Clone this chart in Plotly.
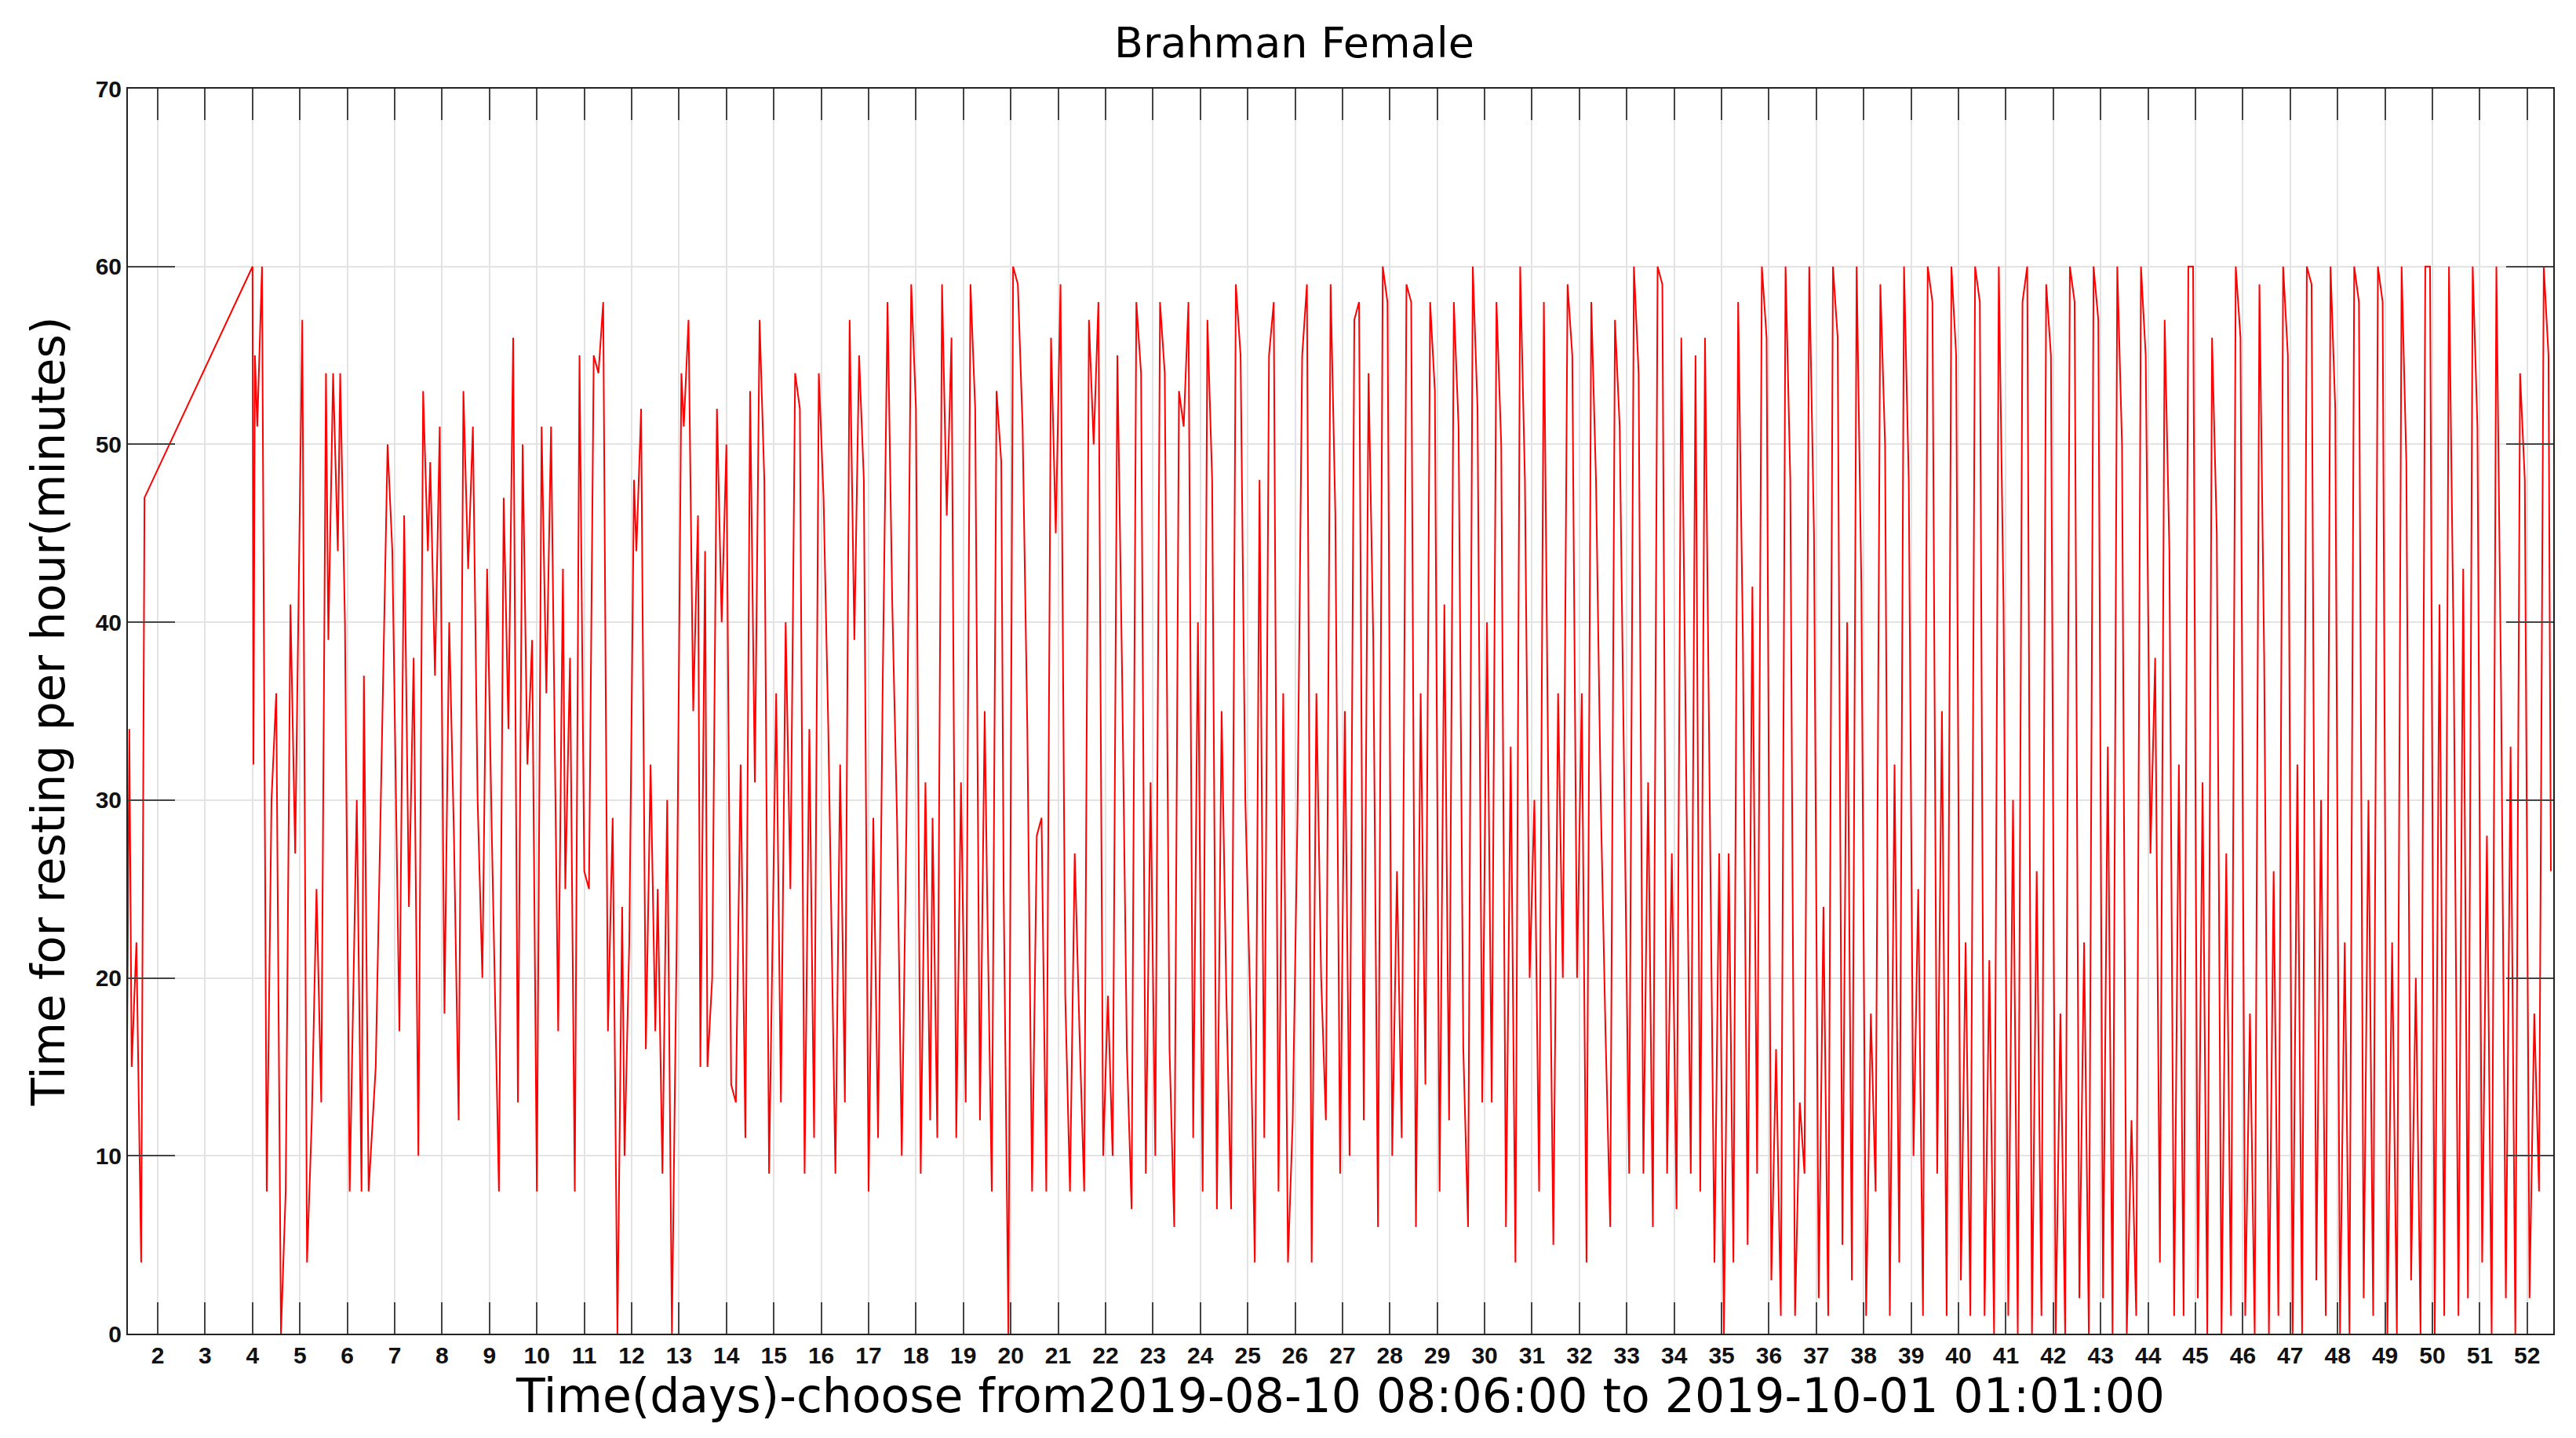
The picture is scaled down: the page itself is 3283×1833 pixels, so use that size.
import plotly.graph_objects as go

pts = """1.35 15,1.4 34,1.45 15,1.55 22,1.65 4,1.72 47,4.0 60,4.02 32,4.05 55,4.1 51,4.2 60,4.3 8,4.4 30,4.5 36,4.6 0,4.7 8,4.8 41,4.9 27,5.05 57,5.15 4,5.25 12,5.35 25,5.45 13,5.55 54,5.6 39,5.7 54,5.8 44,5.85 54,5.95 40,6.05 8,6.2 30,6.3 8,6.35 37,6.45 8,6.6 15,6.85 50,6.95 44,7.1 17,7.2 46,7.3 24,7.4 38,7.5 10,7.6 53,7.7 44,7.75 49,7.85 37,7.95 51,8.05 18,8.15 40,8.25 28,8.35 12,8.45 53,8.55 43,8.65 51,8.75 30,8.85 20,8.95 43,9.05 28,9.2 8,9.3 47,9.4 34,9.5 56,9.6 13,9.7 50,9.8 32,9.9 39,10.0 8,10.1 51,10.2 36,10.3 51,10.45 17,10.55 43,10.6 25,10.7 38,10.8 8,10.9 55,11.0 26,11.1 25,11.2 55,11.3 54,11.4 58,11.5 17,11.6 29,11.7 0,11.8 24,11.85 10,11.95 22,12.05 48,12.1 44,12.2 52,12.3 16,12.4 32,12.5 17,12.55 25,12.65 9,12.75 30,12.85 0,12.95 22,13.05 54,13.1 51,13.2 57,13.3 35,13.4 46,13.45 15,13.55 44,13.6 15,13.7 20,13.8 52,13.9 40,14.0 50,14.1 14,14.2 13,14.3 32,14.4 11,14.5 53,14.6 31,14.7 57,14.8 48,14.9 9,15.05 36,15.15 13,15.25 40,15.35 25,15.45 54,15.55 52,15.65 9,15.75 34,15.85 11,15.95 54,16.05 47,16.15 34,16.3 9,16.4 32,16.5 13,16.6 57,16.7 39,16.8 55,16.9 48,17.0 8,17.1 29,17.2 11,17.3 37,17.4 58,17.5 41,17.6 29,17.7 10,17.8 29,17.9 59,18.0 52,18.1 9,18.2 31,18.3 12,18.35 29,18.45 11,18.55 59,18.65 46,18.75 56,18.85 11,18.95 31,19.05 13,19.15 59,19.25 52,19.35 12,19.45 35,19.5 25,19.6 8,19.7 53,19.8 49,19.85 25,19.95 0,20.05 60,20.15 59,20.25 51,20.35 34,20.45 8,20.55 28,20.65 29,20.75 8,20.85 56,20.95 45,21.05 59,21.15 19,21.25 8,21.35 27,21.45 17,21.55 8,21.65 57,21.75 50,21.85 58,21.95 10,22.05 19,22.15 10,22.25 55,22.35 37,22.45 16,22.55 7,22.65 58,22.75 54,22.85 9,22.95 31,23.05 10,23.15 58,23.25 54,23.35 16,23.45 6,23.55 53,23.65 51,23.75 58,23.85 11,23.95 40,24.05 8,24.15 57,24.25 48,24.35 7,24.45 35,24.55 19,24.65 7,24.75 59,24.85 55,24.95 30,25.05 19,25.15 4,25.25 48,25.35 11,25.45 55,25.55 58,25.65 8,25.75 36,25.85 4,25.95 12,26.05 29,26.15 55,26.25 59,26.35 4,26.45 36,26.55 20,26.65 12,26.75 59,26.85 46,26.95 9,27.05 35,27.15 10,27.25 57,27.35 58,27.45 12,27.55 54,27.65 39,27.75 6,27.85 60,27.95 58,28.05 10,28.15 26,28.25 11,28.35 59,28.45 58,28.55 6,28.65 36,28.75 14,28.85 58,28.95 53,29.05 8,29.15 41,29.25 12,29.35 58,29.45 51,29.55 16,29.65 6,29.75 60,29.85 52,29.95 13,30.05 40,30.15 13,30.25 58,30.35 50,30.45 6,30.55 33,30.65 4,30.75 60,30.85 48,30.95 20,31.05 30,31.15 8,31.25 58,31.35 29,31.45 5,31.55 36,31.65 20,31.75 59,31.85 55,31.95 20,32.05 36,32.15 4,32.25 58,32.35 48,32.45 30,32.55 17,32.65 6,32.75 57,32.85 51,32.95 29,33.05 9,33.15 60,33.25 54,33.35 9,33.45 31,33.55 6,33.65 60,33.75 59,33.85 9,33.95 27,34.05 7,34.15 56,34.25 32,34.35 9,34.45 55,34.55 8,34.65 56,34.75 30,34.85 4,34.95 27,35.05 0,35.15 27,35.25 4,35.35 58,35.45 39,35.55 5,35.65 42,35.75 9,35.85 60,35.95 56,36.05 3,36.15 16,36.25 1,36.35 60,36.45 48,36.55 1,36.65 13,36.75 9,36.85 60,36.95 45,37.05 2,37.15 24,37.25 1,37.35 60,37.45 56,37.55 5,37.65 40,37.75 3,37.85 60,37.95 42,38.05 1,38.15 18,38.25 8,38.35 59,38.45 50,38.55 1,38.65 32,38.75 4,38.85 60,38.95 48,39.05 10,39.15 25,39.25 1,39.35 60,39.45 58,39.55 9,39.65 35,39.75 1,39.85 60,39.95 55,40.05 3,40.15 22,40.25 1,40.35 60,40.45 58,40.55 1,40.65 21,40.75 0,40.85 60,40.95 41,41.05 1,41.15 30,41.25 0,41.35 58,41.45 60,41.55 0,41.65 26,41.75 1,41.85 59,41.95 55,42.05 0,42.15 18,42.25 0,42.35 60,42.45 58,42.55 2,42.65 22,42.75 0,42.85 60,42.95 57,43.05 2,43.15 33,43.25 0,43.35 60,43.45 50,43.55 0,43.65 12,43.75 1,43.85 60,43.95 55,44.05 27,44.15 38,44.25 4,44.35 57,44.45 44,44.55 1,44.65 32,44.75 1,44.85 60,44.95 60,45.05 2,45.15 31,45.25 0,45.35 56,45.45 45,45.55 0,45.65 27,45.75 1,45.85 60,45.95 56,46.05 1,46.15 18,46.25 0,46.35 59,46.45 38,46.55 0,46.65 26,46.75 1,46.85 60,46.95 55,47.05 0,47.15 32,47.25 0,47.35 60,47.45 59,47.55 3,47.65 30,47.75 1,47.85 60,47.95 52,48.05 0,48.15 22,48.25 0,48.35 60,48.45 58,48.55 2,48.65 30,48.75 1,48.85 60,48.95 58,49.05 0,49.15 22,49.25 0,49.35 60,49.45 49,49.55 3,49.65 20,49.75 0,49.85 60,49.95 60,50.05 0,50.15 41,50.25 1,50.35 60,50.45 38,50.55 1,50.65 43,50.75 2,50.85 60,50.95 51,51.05 4,51.15 28,51.25 0,51.35 60,51.45 36,51.55 2,51.65 33,51.75 0,51.85 54,51.95 48,52.05 2,52.15 18,52.25 8,52.35 60,52.45 55,52.5 26"""
days = [float(p.split()[0]) for p in pts.split(",")]
minutes = [float(p.split()[1]) for p in pts.split(",")]

x_ticks = list(range(2, 53))
x_labels = ["<b>%d</b>" % d for d in x_ticks]
y_ticks = [0, 10, 20, 30, 40, 50, 60, 70]
y_labels = ["<b>%d</b>" % v for v in y_ticks]

fig = go.Figure(go.Scatter(x=days, y=minutes, mode="lines",
                           line=dict(color="#ff0000", width=2)))
axis_common = dict(showline=True, linecolor="#222", linewidth=2, mirror="ticks",
                   ticks="inside", tickcolor="#444", tickwidth=2,
                   showgrid=True, gridcolor="#e3e3e3", gridwidth=2, zeroline=False,
                   tickfont=dict(family="Liberation Sans Narrow, Arial Narrow, sans-serif", size=30, color="#111"))
fig.update_xaxes(range=[1.37, 52.55], tickvals=x_ticks, ticktext=x_labels, ticklen=40, **axis_common,
                 title=dict(text="Time(days)-choose from2019-08-10 08:06:00 to 2019-10-01 01:01:00",
                            font=dict(family="DejaVu Sans", size=60, color="#000"), standoff=10))
fig.update_yaxes(range=[0, 70], tickvals=y_ticks, ticktext=y_labels, ticklen=60, **axis_common,
                 title=dict(text="Time for resting per hour(minutes)",
                            font=dict(family="DejaVu Sans", size=58, color="#000"), standoff=20))
fig.update_layout(width=3283, height=1833, plot_bgcolor="white", paper_bgcolor="white",
                  showlegend=False,
                  title=dict(text="Brahman Female", x=0.5, y=0.985, yanchor="top",
                             font=dict(family="DejaVu Sans", size=54, color="#000")),
                  margin=dict(l=155, r=37, t=105, b=141))
fig.write_html("out.html")
